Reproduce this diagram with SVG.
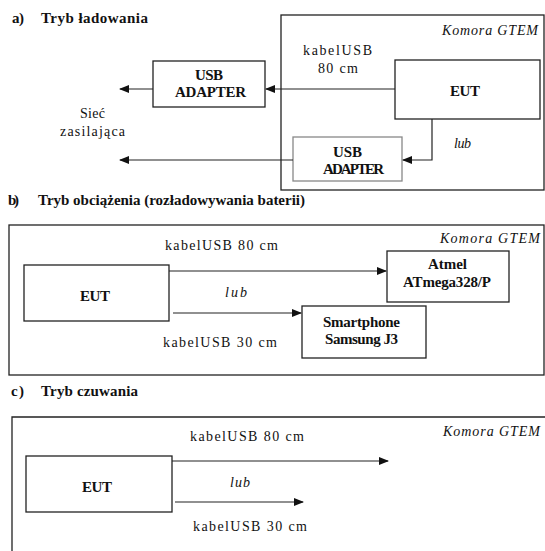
<svg xmlns="http://www.w3.org/2000/svg" width="545" height="551" viewBox="0 0 545 551" font-family="'Liberation Serif', 'Times New Roman', 'DejaVu Serif', serif">
<style>
text{fill:#111;}
.t{font-size:15px;font-weight:bold;}
.b{font-size:15px;font-weight:bold;}
.n{font-size:14px;}
.i{font-size:14px;font-style:italic;}
.box{fill:#fff;stroke:#222;stroke-width:1.3;}
.frame{fill:none;stroke:#222;stroke-width:1.3;}
.ln{fill:none;stroke:#222;stroke-width:1.2;}
</style>
<defs>
<marker id="ah" markerUnits="userSpaceOnUse" markerWidth="10" markerHeight="8" refX="9" refY="4" orient="auto">
<path d="M0,0 L10,4 L0,8 Z" fill="#111"/>
</marker>
</defs>
<rect width="545" height="551" fill="#fff"/>

<!-- Section a -->
<g id="title-a"><text class="t" x="12" y="23" textLength="12">a)</text><text class="t" x="41" y="23" textLength="107">Tryb ładowania</text></g>
<g id="gtem-a"><rect class="frame" x="281" y="15" width="263" height="175"/><text class="i" x="442" y="35" textLength="96">Komora GTEM</text></g>
<g id="eut-a"><rect class="box" x="395" y="60" width="145" height="59"/><text class="b" x="450" y="96" textLength="30">EUT</text></g>
<g id="adapter1"><rect class="box" x="153" y="61" width="112" height="46"/><text class="b" x="195" y="80" textLength="28">USB</text><text class="b" x="175" y="97" textLength="71">ADAPTER</text></g>
<g id="adapter2"><rect class="box" x="293" y="137" width="109" height="44" style="stroke:#888"/><text class="b" x="333" y="157" textLength="29">USB</text><text class="b" x="323" y="174" textLength="61">ADAPTER</text></g>
<g id="siec"><text class="n" x="80" y="118" textLength="25">Sieć</text><text class="n" x="60" y="136" textLength="65">zasilająca</text></g>
<g id="labels-a"><text class="n" x="303" y="55" textLength="69">kabelUSB</text><text class="n" x="318" y="73" textLength="40">80 cm</text><text class="i" x="454" y="148" textLength="17">lub</text></g>

<!-- Section b -->
<g id="title-b"><text class="t" x="8" y="205" textLength="11">b)</text><text class="t" x="38" y="205" textLength="267">Tryb obciążenia (rozładowywania baterii)</text></g>
<g id="gtem-b"><rect class="frame" x="9" y="225" width="535" height="150"/><text class="i" x="440" y="243" textLength="100">Komora GTEM</text></g>
<g id="eut-b"><rect class="box" x="24" y="265" width="145" height="56"/><text class="b" x="80" y="301" textLength="30">EUT</text></g>
<g id="atmel"><rect class="box" x="387" y="251" width="122" height="51"/><text class="b" x="428" y="269" textLength="39">Atmel</text><text class="b" x="403" y="287" textLength="88">ATmega328/P</text></g>
<g id="smartphone"><rect class="box" x="302" y="306" width="124" height="52"/><text class="b" x="323" y="327" textLength="77">Smartphone</text><text class="b" x="325" y="344" textLength="73">Samsung J3</text></g>
<g id="labels-b"><text class="n" x="165" y="250" textLength="113">kabelUSB  80 cm</text><text class="i" x="225" y="297" textLength="22">lub</text><text class="n" x="163" y="347" textLength="114">kabelUSB  30 cm</text></g>

<!-- Section c -->
<g id="title-c"><text class="t" x="11" y="396" textLength="13">c)</text><text class="t" x="41" y="396" textLength="97">Tryb czuwania</text></g>
<g id="gtem-c"><path class="frame" d="M12,560 V417 H545"/><text class="i" x="443" y="436" textLength="97">Komora GTEM</text></g>
<g id="eut-c"><rect class="box" x="26" y="456" width="146" height="56"/><text class="b" x="82" y="492" textLength="30">EUT</text></g>
<g id="labels-c"><text class="n" x="190" y="441" textLength="114">kabelUSB  80 cm</text><text class="i" x="230" y="487" textLength="20">lub</text><text class="n" x="193" y="531" textLength="114">kabelUSB  30 cm</text></g>

<g id="connectors">
<line class="ln" x1="395" y1="89" x2="266" y2="89" marker-end="url(#ah)"/>
<line class="ln" x1="153" y1="89" x2="120" y2="89" marker-end="url(#ah)"/>
<polyline class="ln" points="432,119 432,160 403,160" marker-end="url(#ah)"/>
<line class="ln" x1="293" y1="160" x2="120" y2="160" marker-end="url(#ah)"/>
<line class="ln" x1="169" y1="271" x2="386" y2="271" marker-end="url(#ah)"/>
<line class="ln" x1="173" y1="313" x2="301" y2="313" marker-end="url(#ah)"/>
<line class="ln" x1="172" y1="461" x2="388" y2="461" marker-end="url(#ah)"/>
<line class="ln" x1="175" y1="502" x2="303" y2="502" marker-end="url(#ah)"/>
</g>
</svg>
